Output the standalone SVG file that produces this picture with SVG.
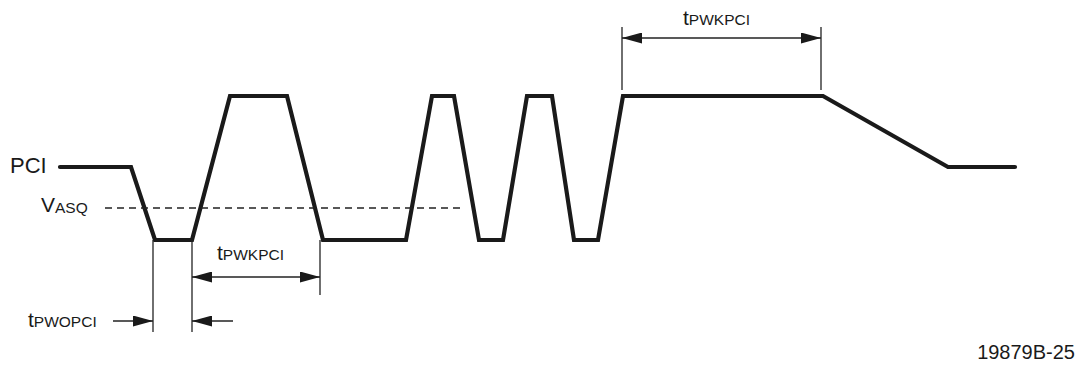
<svg xmlns="http://www.w3.org/2000/svg" width="1085" height="366" viewBox="0 0 1085 366">
  <style>
    .lbl { font-family: "Liberation Sans", Arial, sans-serif; font-size: 21px; fill: #1a1a1a; }
    .sub { font-size: 15.5px; }
    .wave { fill: none; stroke: #1a1a1a; stroke-width: 4.2; stroke-linecap: round; stroke-linejoin: miter; }
    .ext { stroke: #222; stroke-width: 1.3; fill: none; }
    .dim { stroke: #222; stroke-width: 1.3; fill: none; marker-end: url(#ah); }
    .dim2 { stroke: #222; stroke-width: 1.3; fill: none; marker-start: url(#ah); marker-end: url(#ah); }
    .dash { stroke: #222; stroke-width: 1.3; stroke-dasharray: 7 5; fill: none; }
  </style>
  <defs>
    <marker id="ah" viewBox="0 0 20 11" refX="20" refY="5.5" markerWidth="20" markerHeight="11" markerUnits="userSpaceOnUse" orient="auto-start-reverse">
      <path d="M0,0 L20,5.5 L0,11 Z" fill="#1a1a1a"/>
    </marker>
  </defs>
  <rect width="1085" height="366" fill="#ffffff"/>

  <g id="pci-waveform">
    <polyline class="wave" points="60,167 131,167 155,240 192,240 230,96 287,96 323,240 406,240 432,96 454,96 479,240 503,240 527,96 552,96 574,240 598,240 623,96 823,96 948,167 1015,167"/>
  </g>

  <g id="vasq-threshold">
    <line class="dash" x1="105" y1="208" x2="465" y2="208"/>
  </g>

  <g id="label-pci">
    <text class="lbl" x="10" y="173" style="font-size:22px">PCI</text>
  </g>
  <g id="label-vasq">
    <text class="lbl" x="41" y="212">V<tspan class="sub" dy="1">ASQ</tspan></text>
  </g>
  <g id="label-tpwkpci-top">
    <text class="lbl" x="683" y="25">t<tspan class="sub">PWKPCI</tspan></text>
  </g>
  <g id="label-tpwkpci-bottom">
    <text class="lbl" x="217" y="260">t<tspan class="sub">PWKPCI</tspan></text>
  </g>
  <g id="label-tpwopci">
    <text class="lbl" x="28" y="327">t<tspan class="sub">PWOPCI</tspan></text>
  </g>
  <g id="label-figure">
    <text class="lbl" x="1075" y="359" text-anchor="end" style="font-size:20px">19879B-25</text>
  </g>

  <g id="connectors">
    <!-- extension lines -->
    <line class="ext" x1="153" y1="240" x2="153" y2="332"/>
    <line class="ext" x1="192" y1="240" x2="192" y2="332"/>
    <line class="ext" x1="320" y1="240" x2="320" y2="295"/>
    <line class="ext" x1="622" y1="27" x2="622" y2="90"/>
    <line class="ext" x1="821" y1="27" x2="821" y2="90"/>
    <!-- dimension arrows -->
    <line class="dim2" x1="192" y1="277" x2="320" y2="277"/>
    <line class="dim2" x1="622" y1="38" x2="821" y2="38"/>
    <line class="dim" x1="113" y1="321" x2="153" y2="321"/>
    <line class="dim" x1="233" y1="321" x2="192" y2="321"/>
  </g>
</svg>
